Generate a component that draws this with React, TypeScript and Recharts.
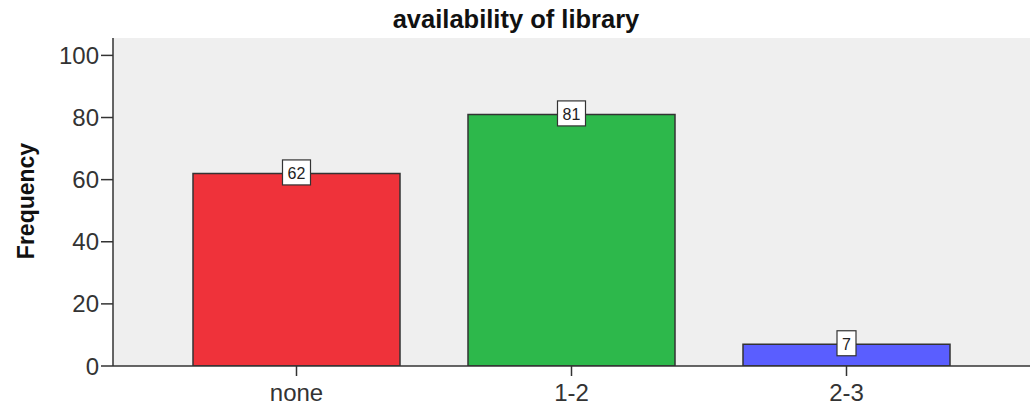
import React from "react";
import { BarChart, Bar, XAxis, YAxis, CartesianGrid, Cell, LabelList } from "recharts";

const categories = ["none", "1-2", "2-3"];
const frequencies = [62, 81, 7];
const barColors = ["#EF323A", "#2DB84B", "#5A5EFF"];
const yTicks = [0, 20, 40, 60, 80, 100];
const title = "availability of library";
const yLabel = "Frequency";

const data = categories.map((c, i) => ({ category: c, value: frequencies[i] }));

const FONT = "'Liberation Sans', Arial, Helvetica, sans-serif";

const ValueLabel = (props: any) => {
  const { x, y, width, value } = props;
  const s = String(value);
  const w = 9 * s.length + 10;
  const h = 25;
  const cx = x + width / 2;
  return (
    <g>
      <rect x={cx - w / 2} y={y - h / 2 - 1} width={w} height={h} fill="#FFFFFF" stroke="#333333" strokeWidth={1.2} />
      <text x={cx} y={y + 5.5} textAnchor="middle" fontSize={16} fontFamily={FONT} fill="#222222">
        {s}
      </text>
    </g>
  );
};

export default function App() {
  return (
    <div style={{ position: "absolute", left: 0, top: 0, width: 1032, height: 407, background: "#FFFFFF" }}>
      <BarChart
        width={1032}
        height={407}
        data={data}
        margin={{ top: 38, right: 2, bottom: 0, left: 0 }}
        barSize={207}
      >
        <CartesianGrid fill="#EFEFEF" horizontal={false} vertical={false} />
        <XAxis
          dataKey="category"
          padding={{ left: 46, right: 46 }}
          height={41}
          tickSize={10}
          tickMargin={8}
          tickLine={{ stroke: "#333333", strokeWidth: 1.5 }}
          axisLine={{ stroke: "#333333", strokeWidth: 1.5 }}
          tick={{ fontSize: 24, fontFamily: FONT, fill: "#333333" }}
        />
        <XAxis xAxisId="top" dataKey="category" orientation="top" height={0} tick={false} tickLine={false} axisLine={{ stroke: "#333333", strokeWidth: 1.5 }} />
        <YAxis
          width={113}
          domain={[0, 105.6]}
          ticks={yTicks}
          allowDataOverflow
          tickSize={12}
          tickMargin={2}
          tickLine={{ stroke: "#333333", strokeWidth: 1.5 }}
          axisLine={{ stroke: "#333333", strokeWidth: 1.5 }}
          tick={{ fontSize: 24, fontFamily: FONT, fill: "#333333" }}
        />
        <YAxis yAxisId="right" orientation="right" width={0} tick={false} tickLine={false} axisLine={{ stroke: "#333333", strokeWidth: 1.5 }} />
        <Bar dataKey="value" isAnimationActive={false} stroke="#333333" strokeWidth={1.5}>
          {data.map((d, i) => (
            <Cell key={d.category} fill={barColors[i]} />
          ))}
          <LabelList dataKey="value" content={<ValueLabel />} />
        </Bar>
        <text x={516} y={28} textAnchor="middle" fontSize={25.5} fontWeight="bold" fontFamily={FONT} fill="#111111">
          {title}
        </text>
        <text
          transform="translate(34,201) rotate(-90)"
          textAnchor="middle"
          fontSize={23}
          fontWeight="bold"
          fontFamily={FONT}
          fill="#111111"
        >
          {yLabel}
        </text>
      </BarChart>
    </div>
  );
}
